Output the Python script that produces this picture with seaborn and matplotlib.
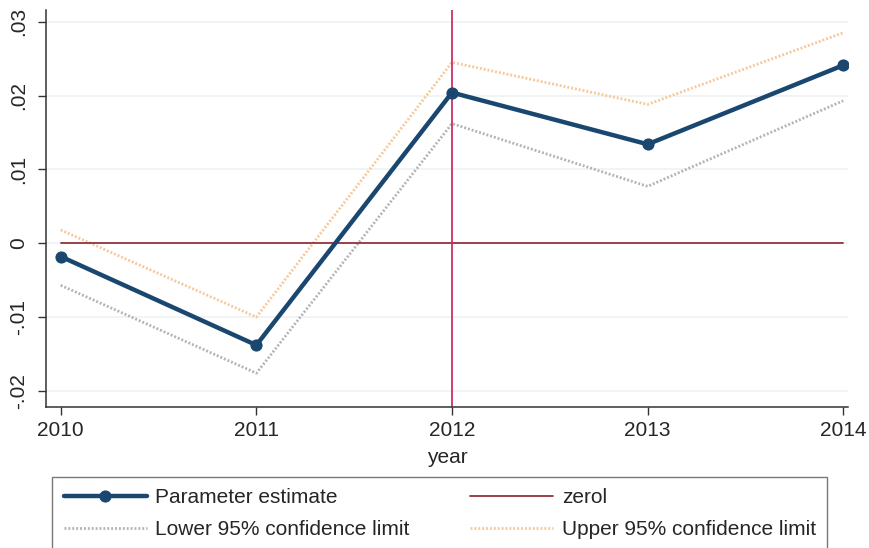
import matplotlib
matplotlib.use("Agg")
import matplotlib.pyplot as plt
import seaborn as sns
import pandas as pd

years = [2010, 2011, 2012, 2013, 2014]
estimate = [-0.0018, -0.0138, 0.0204, 0.0134, 0.0241]
lower_ci = [-0.0057, -0.0176, 0.0162, 0.0077, 0.0193]
upper_ci = [0.0018, -0.0100, 0.0245, 0.0188, 0.0285]
zero_line = [0, 0, 0, 0, 0]
y_ticks = [-0.02, -0.01, 0.0, 0.01, 0.02, 0.03]
y_tick_labels = ["-.02", "-.01", "0", ".01", ".02", ".03"]
event_year = 2012

sns.set_theme(style="white")
plt.rcParams["font.family"] = ["Liberation Sans", "DejaVu Sans"]

FS = 15

df = pd.DataFrame({
    "year": years * 4,
    "value": estimate + zero_line + lower_ci + upper_ci,
    "series": (["Parameter estimate"] * 5 + ["zerol"] * 5
               + ["Lower 95% confidence limit"] * 5
               + ["Upper 95% confidence limit"] * 5),
})

fig = plt.figure(figsize=(8.69, 5.48), dpi=100)
ax = fig.add_axes([0.053, 0.257, 0.923, 0.725])

for y in y_ticks:
    ax.axhline(y, color="#eef2f3", lw=1.2, zorder=0)

styles = {
    "Lower 95% confidence limit": dict(color="#b4b4b4", lw=2.0, ls=(0, (0.7, 0.7))),
    "Upper 95% confidence limit": dict(color="#f7c89a", lw=2.0, ls=(0, (0.7, 0.7))),
    "zerol": dict(color="#93333e", lw=1.3, ls="-"),
}
for name, st in styles.items():
    sub = df[df["series"] == name]
    sns.lineplot(data=sub, x="year", y="value", ax=ax, label=name,
                 color=st["color"], lw=st["lw"], linestyle=st["ls"], zorder=2)

sub = df[df["series"] == "Parameter estimate"]
sns.lineplot(data=sub, x="year", y="value", ax=ax, label="Parameter estimate",
             color="#1a476f", lw=3.2, marker="o", markersize=8,
             markeredgecolor="#1a476f", zorder=3)

ax.axvline(event_year, color="#c8306a", lw=1.3, zorder=2.5)

ax.set_xlim(2009.925, 2014.025)
ax.set_ylim(-0.0222, 0.0316)
ax.set_xticks(years)
ax.set_xticklabels([str(y) for y in years], fontsize=FS)
ax.set_yticks(y_ticks)
ax.set_yticklabels(y_tick_labels, fontsize=FS, rotation=90, va="center")
ax.tick_params(axis="both", direction="out", length=6, width=1, color="#333333",
               bottom=True, left=True)
ax.tick_params(axis="x", pad=4)
ax.tick_params(axis="y", pad=7)
ax.set_xlabel("year", fontsize=FS, labelpad=6)
ax.set_ylabel("")

for s in ["top", "right"]:
    ax.spines[s].set_visible(False)
for s in ["left", "bottom"]:
    ax.spines[s].set_color("#333333")
    ax.spines[s].set_linewidth(1.1)

handles, labels = ax.get_legend_handles_labels()
order = ["Parameter estimate", "Lower 95% confidence limit",
         "zerol", "Upper 95% confidence limit"]
hmap = dict(zip(labels, handles))
ax.legend([hmap[k] for k in order], order, ncol=2, loc="upper left",
          bbox_to_anchor=(0.06, 0.1296), bbox_transform=fig.transFigure,
          borderaxespad=0.0, frameon=True, fancybox=False, edgecolor="#555555",
          fontsize=FS, handlelength=4.0, handletextpad=0.4,
          borderpad=0.55, labelspacing=0.6, columnspacing=2.9)

fig.savefig("out.png", dpi=100, facecolor="white")
